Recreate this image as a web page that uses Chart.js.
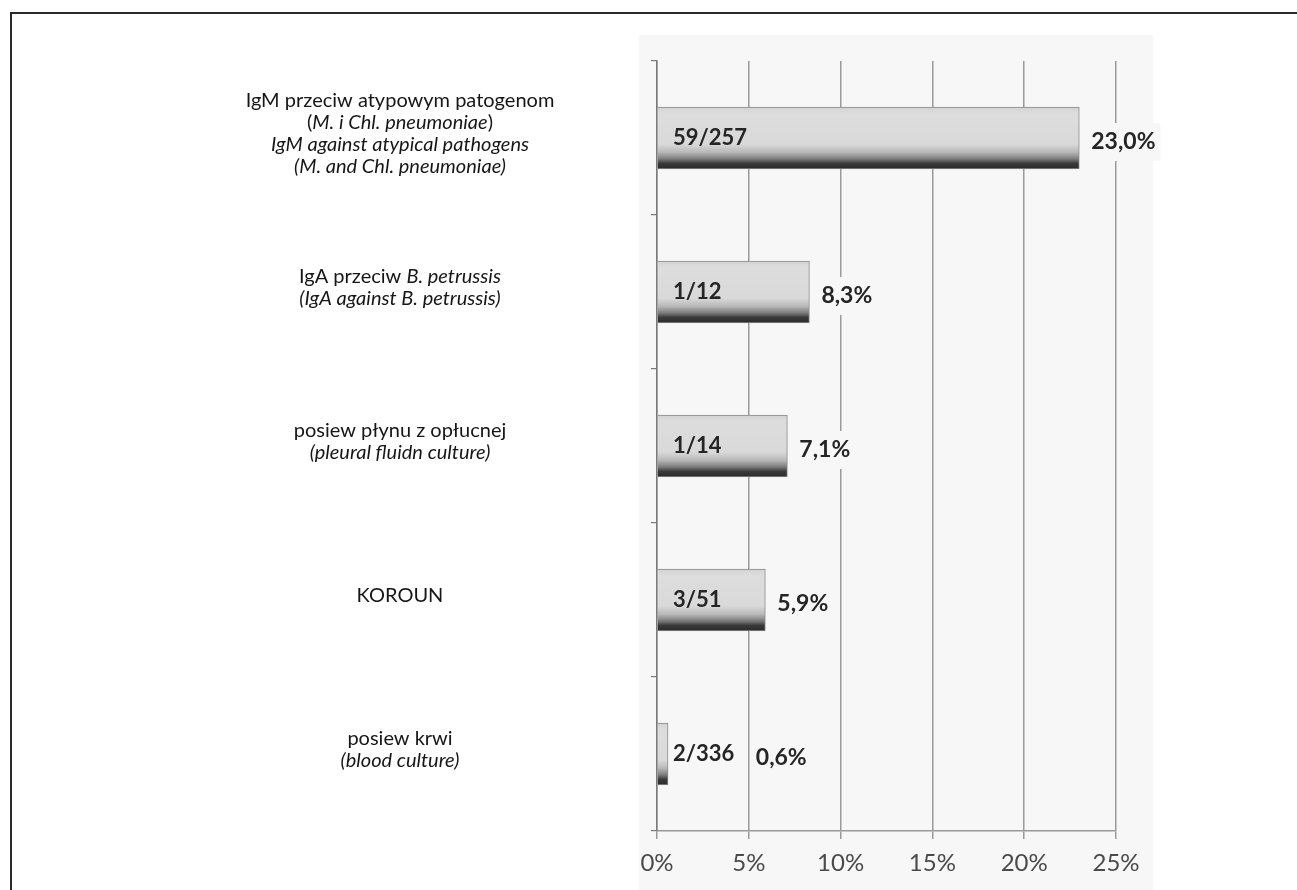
<!DOCTYPE html>
<html>
<head>
<meta charset="utf-8">
<script src="https://cdn.jsdelivr.net/npm/chart.js@4.4.1/dist/chart.umd.min.js"></script>
<style>
html, body { margin: 0; padding: 0; background: #fff; }
#wrap { position: relative; width: 1297px; height: 890px; overflow: hidden; }
#frame { position: absolute; left: 10px; top: 12px; right: -10px; bottom: -10px;
         border-top: 2px solid #2a2a2a; border-left: 2px solid #2a2a2a; }
canvas { position: absolute; left: 0; top: 0; }
</style>
</head>
<body>
<div id="wrap">
  <div id="frame"></div>
  <canvas id="chart" width="1297" height="890"></canvas>
</div>
<script>
// kategorie (tekst między * rysowany kursywą, \n = nowa linia)
const categories = [
    'IgM przeciw atypowym patogenom\n(*M. i Chl. pneumoniae*)\n*IgM against atypical pathogens*\n*(M. and Chl. pneumoniae)*',
    'IgA przeciw *B. petrussis*\n*(IgA against B. petrussis)*',
    'posiew płynu z opłucnej\n*(pleural fluidn culture)*',
    'KOROUN',
    'posiew krwi\n*(blood culture)*'
];
const percentValues = [23.0, 8.3, 7.1, 5.9, 0.6];
const percentLabels = ['23,0%', '8,3%', '7,1%', '5,9%', '0,6%'];
const countLabels = ['59/257', '1/12', '1/14', '3/51', '2/336'];
const xTicks = [0, 5, 10, 15, 20, 25];

const FONT = 'Lato, "Open Sans", sans-serif';
const PLOT_BG = '#f7f7f7';
const BAR_H = 62;

// tło obszaru wykresu
const plotBackground = {
    id: 'plotBackground',
    beforeDraw(chart) {
        const { ctx, chartArea } = chart;
        ctx.save();
        ctx.fillStyle = PLOT_BG;
        ctx.fillRect(chartArea.left - 18, 35, chartArea.right - chartArea.left + 55, chart.height - 35);
        ctx.restore();
    }
};

// gradient słupka (jasny u góry, ciemny pasek u dołu)
const barGradient = {
    id: 'barGradient',
    beforeDatasetsDraw(chart) {
        const meta = chart.getDatasetMeta(0);
        meta.data.forEach(bar => {
            const top = bar.y - bar.height / 2;
            const g = chart.ctx.createLinearGradient(0, top, 0, top + bar.height);
            g.addColorStop(0, '#d2d2d2');
            g.addColorStop(0.1, '#dddddd');
            g.addColorStop(0.6, '#d9d9d9');
            g.addColorStop(0.73, '#b8b8b8');
            g.addColorStop(0.84, '#7a7a7a');
            g.addColorStop(0.91, '#3a3a3a');
            g.addColorStop(1, '#2a2a2a');
            // kopia opcji, bo obiekt opcji jest współdzielony między słupkami
            bar.options = Object.assign({}, bar.options, { backgroundColor: g });
        });
    }
};

// rysuje linię tekstu z fragmentami kursywy
function drawRichLine(ctx, line, cx, cy, size) {
    const parts = line.split('*');
    let total = 0;
    const segs = parts.map((t, i) => {
        ctx.font = (i % 2 ? 'italic ' : '') + size + 'px ' + FONT;
        const w = ctx.measureText(t).width;
        total += w;
        return { t, italic: i % 2 === 1, w };
    });
    let x = cx - total / 2;
    segs.forEach(s => {
        ctx.font = (s.italic ? 'italic ' : '') + size + 'px ' + FONT;
        ctx.fillText(s.t, x, cy);
        x += s.w;
    });
}

const labelsPlugin = {
    id: 'labelsPlugin',
    afterDatasetsDraw(chart) {
        const { ctx, scales } = chart;
        const x = scales.x, y = scales.y;
        ctx.save();
        ctx.textBaseline = 'middle';
        ctx.textAlign = 'left';
        ctx.fillStyle = '#161616';

        // etykiety kategorii po lewej
        const labelCx = x.left - 257;
        categories.forEach((label, i) => {
            const lines = label.split('\n');
            const lh = 22;
            const cy = y.getPixelForValue(i) - 4;
            const start = cy - (lines.length - 1) * lh / 2;
            lines.forEach((ln, j) => drawRichLine(ctx, ln, labelCx, start + j * lh, 20));
        });

        // liczebności wewnątrz słupków
        ctx.font = 'bold 22px ' + FONT;
        ctx.fillStyle = '#252525';
        countLabels.forEach((t, i) => {
            ctx.fillText(t, x.getPixelForValue(0) + 16, y.getPixelForValue(i));
        });

        // procenty za słupkami
        ctx.font = 'bold 23px ' + FONT;
        percentLabels.forEach((t, i) => {
            const end = x.getPixelForValue(percentValues[i]);
            const lx = Math.max(end + 12, x.getPixelForValue(5) + 7);
            const ly = y.getPixelForValue(i) + 4;
            const w = ctx.measureText(t).width;
            ctx.fillStyle = PLOT_BG;
            ctx.fillRect(lx - 5, ly - 19, w + 10, 38);
            ctx.fillStyle = '#252525';
            ctx.fillText(t, lx, ly);
        });
        ctx.restore();
    }
};

new Chart(document.getElementById('chart'), {
    type: 'bar',
    data: {
        labels: categories.map(c => c.replace(/\*/g, '').replace(/\n/g, ' ')),
        datasets: [{
            data: percentValues,
            backgroundColor: '#dcdcdc',
            borderColor: '#8a8a8a',
            borderWidth: 1,
            borderSkipped: 'start',
            barThickness: BAR_H
        }]
    },
    options: {
        indexAxis: 'y',
        responsive: false,
        animation: false,
        layout: { padding: { left: 0, top: 61, right: 181, bottom: 0 } },
        plugins: {
            legend: { display: false },
            tooltip: { enabled: false }
        },
        scales: {
            x: {
                min: 0,
                max: 25,
                afterBuildTicks: s => { s.ticks = xTicks.map(v => ({ value: v })); },
                afterFit: s => { s.height = 59; },
                ticks: {
                    callback: v => v + '%',
                    font: { family: FONT, size: 24 },
                    color: '#4a4a4a',
                    padding: 10
                },
                grid: { color: '#9a9a9a', lineWidth: 1.5, tickLength: 8 },
                border: { color: '#9a9a9a', width: 1.5 }
            },
            y: {
                afterFit: s => { s.width = 657; },
                ticks: { display: false },
                grid: { drawOnChartArea: false, offset: true, tickLength: 6, color: '#7a7a7a', lineWidth: 1.2 },
                border: { color: '#7a7a7a', width: 1.5 }
            }
        }
    },
    plugins: [plotBackground, barGradient, labelsPlugin]
});
</script>
</body>
</html>
